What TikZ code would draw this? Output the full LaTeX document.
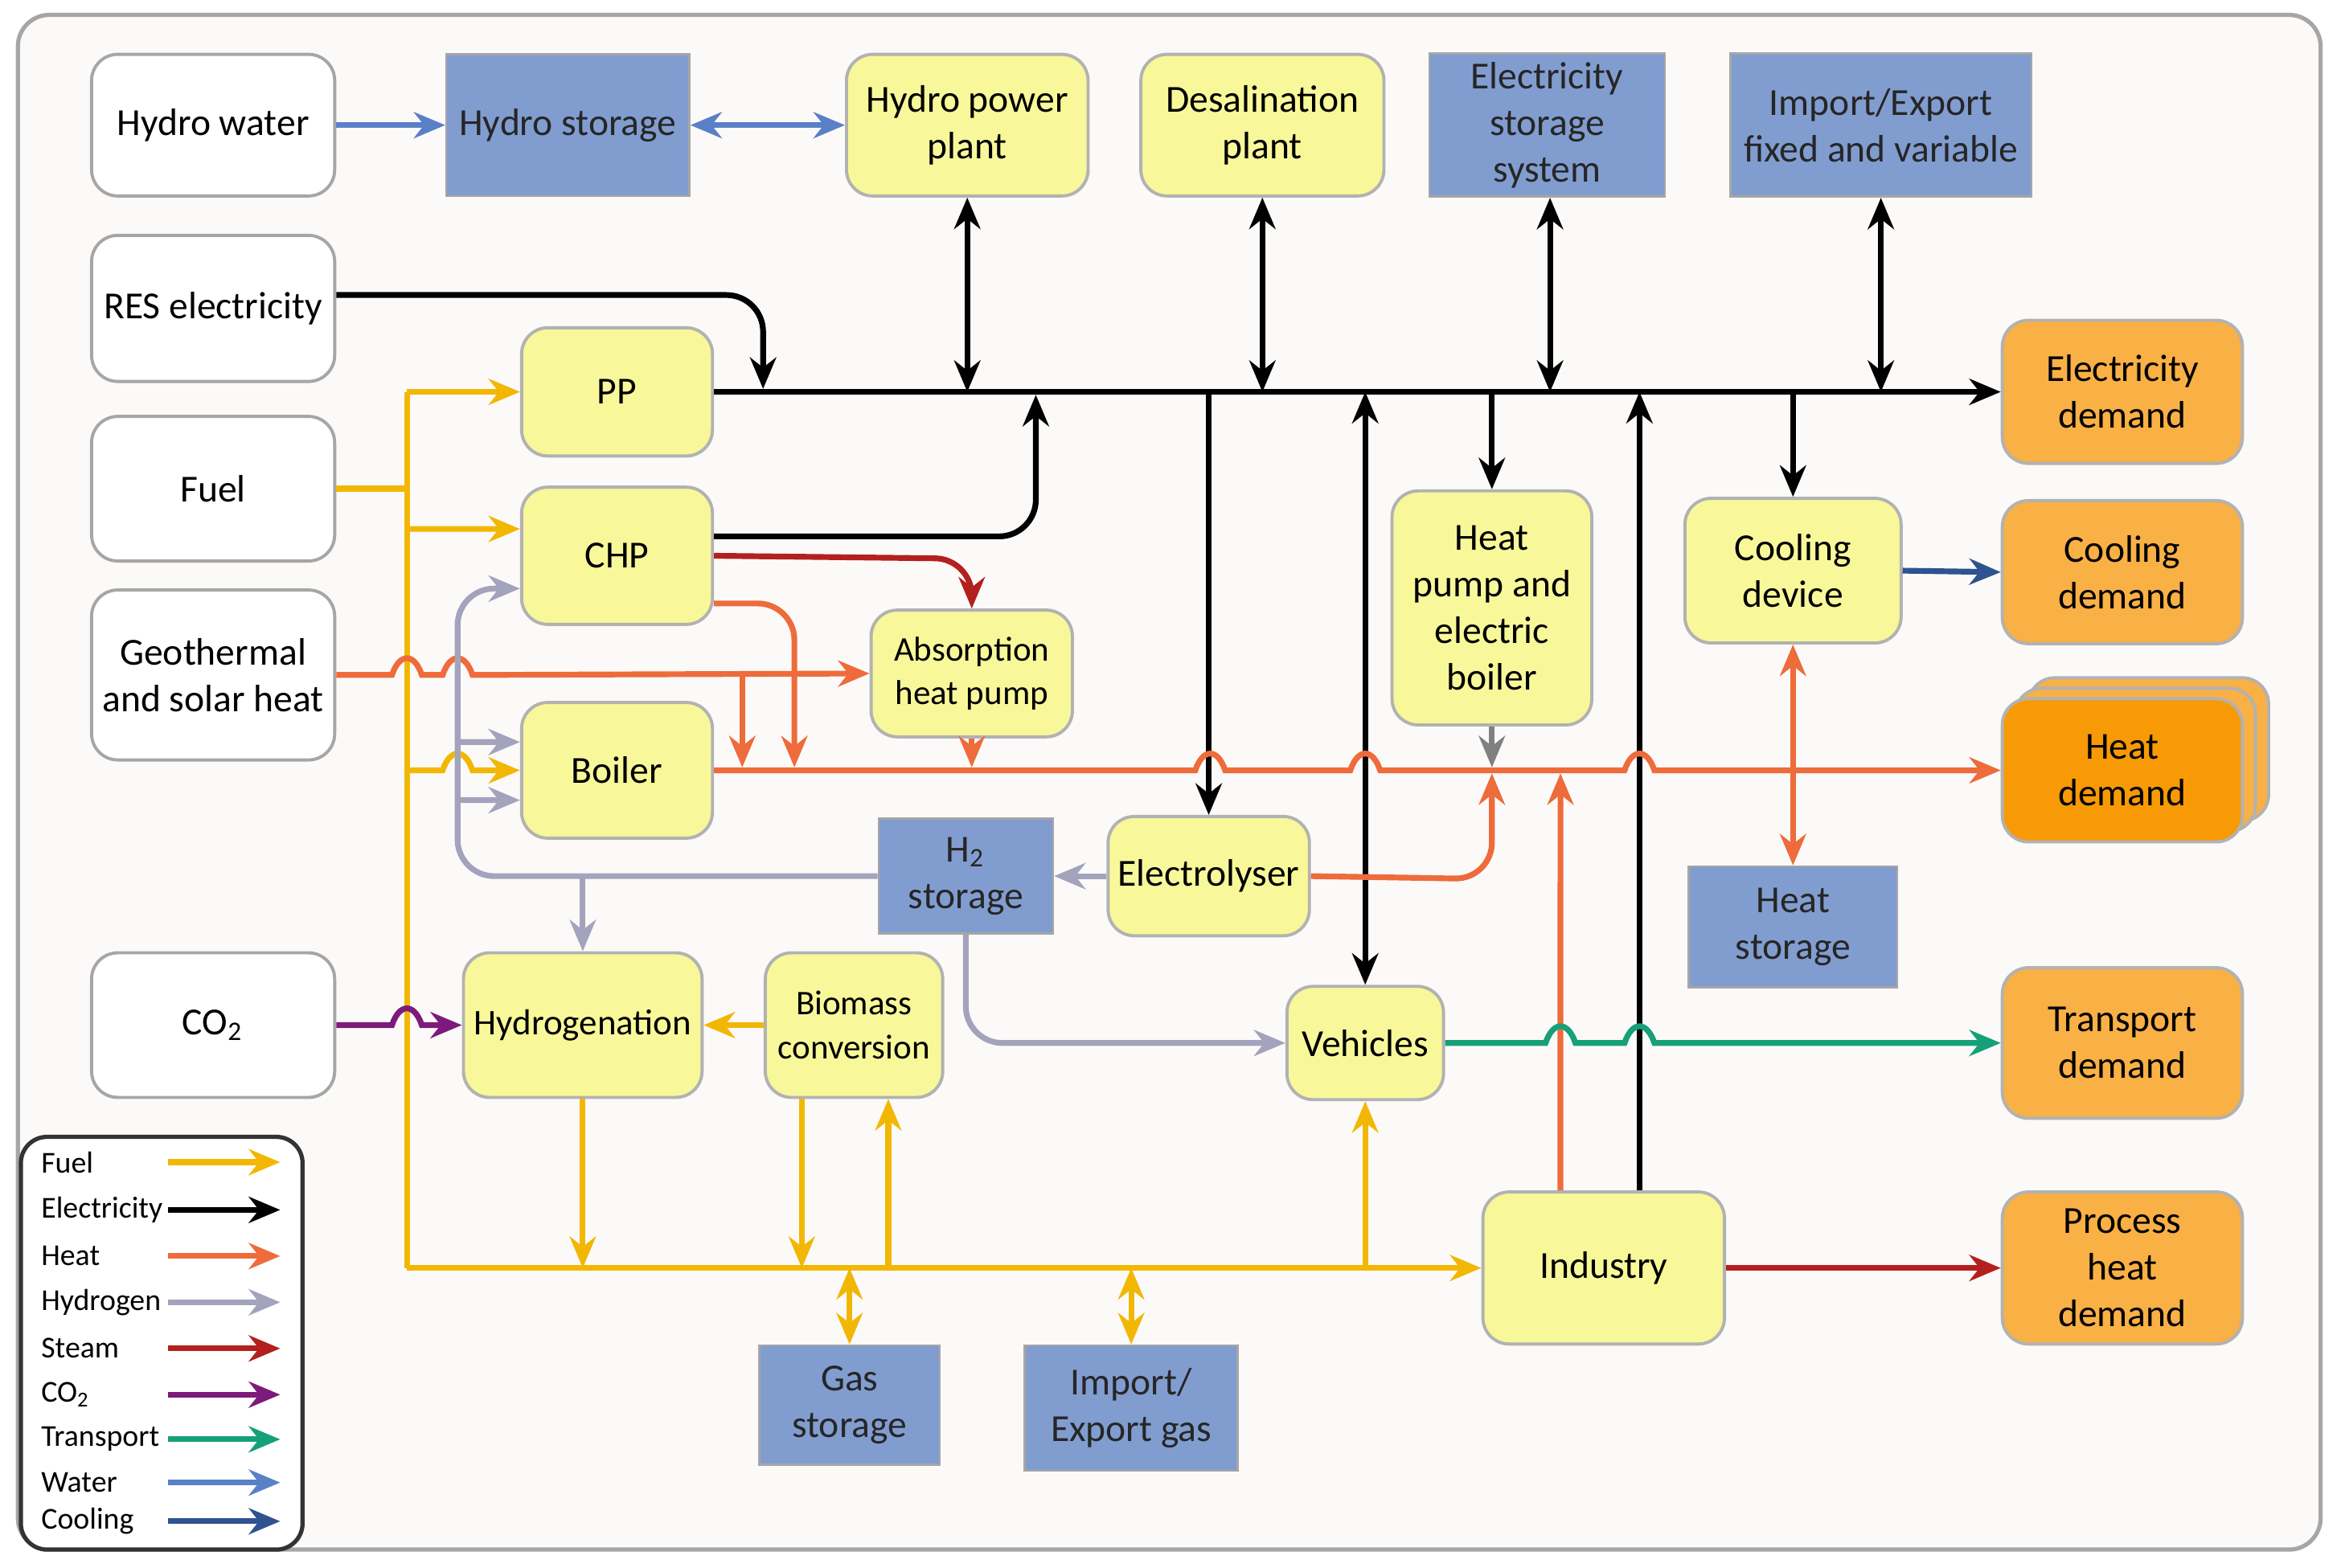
\documentclass[tikz,border=0pt]{standalone}
\usepackage{fontspec}
\setmainfont{Carlito}
\usetikzlibrary{arrows.meta,shadows}
\definecolor{fuelc}{HTML}{F2B705}
\definecolor{heatc}{HTML}{EE6B3B}
\definecolor{hydc}{HTML}{A3A3BD}
\definecolor{steamc}{HTML}{B3201E}
\definecolor{co2c}{HTML}{7D1A7B}
\definecolor{transc}{HTML}{16A07A}
\definecolor{waterc}{HTML}{5A80C8}
\definecolor{coolc}{HTML}{2F5290}
\definecolor{yfill}{HTML}{F8F89A}
\definecolor{ofill}{HTML}{F9B045}
\definecolor{hdfill}{HTML}{F79A05}
\definecolor{bfill}{HTML}{819DD0}
\definecolor{bgc}{HTML}{FCFAF8}
\tikzset{
 base/.style={font=\fontsize{7.3}{8.9}\selectfont,align=center,inner sep=1pt},
 wbox/.style={base,draw=gray!70,fill=white,rounded corners=5pt,line width=0.6pt},
 ybox/.style={base,draw=gray!60,fill=yfill,rounded corners=5pt,line width=0.6pt},
 bbox/.style={base,draw=gray!70,fill=bfill,text=black!85},
 obox/.style={base,draw=gray!60,fill=ofill,rounded corners=5pt,line width=0.6pt},
 ln/.style={line width=1.1pt,rounded corners=7pt},
 sl/.style={rounded corners=0pt},
 tip/.style={-{Stealth[length=6pt,width=5pt]}},
 tt/.style={{Stealth[length=6pt,width=5pt]}-{Stealth[length=6pt,width=5pt]}},
 el/.style={ln,black}, fu/.style={ln,fuelc}, ht/.style={ln,heatc},
 hy/.style={ln,hydc}, st/.style={ln,steamc}, co/.style={ln,co2c},
 tr/.style={ln,transc}, wa/.style={ln,waterc}, cl/.style={ln,coolc},
 hop/.style={insert path={.. controls +(5,-15) and +(-5,-15) .. ++(20,0)}},
 lg/.style={font=\fontsize{5.8}{7}\selectfont,anchor=west,inner sep=0pt}
}
\begin{document}
\begin{tikzpicture}[x=0.01cm,y=-0.01cm]
\useasboundingbox (0,0) rectangle (1568,1052);
\draw[gray!70,fill=bgc,rounded corners=6pt,line width=0.8pt] (12,10) rectangle (1557,1040);
% nodes
\node[wbox,minimum width=1.63cm,minimum height=0.95cm] (hw) at (143,84) {Hydro water};
\node[bbox,minimum width=1.63cm,minimum height=0.95cm] (hs) at (381,84) {Hydro storage};
\node[ybox,minimum width=1.62cm,minimum height=0.95cm] (hpp) at (649,84) {Hydro power\\plant};
\node[ybox,minimum width=1.63cm,minimum height=0.95cm] (dp) at (847,84) {Desalination\\plant};
\node[bbox,minimum width=1.58cm,minimum height=0.96cm] (ess) at (1038,84) {Electricity\\storage\\system};
\node[bbox,minimum width=2.02cm,minimum height=0.96cm] (iex) at (1262,84) {Import/Export\\fixed and variable};
\node[wbox,minimum width=1.63cm,minimum height=0.98cm] (res) at (143,207) {RES electricity};
\node[wbox,minimum width=1.63cm,minimum height=0.97cm] (fuel) at (143,328) {Fuel};
\node[wbox,minimum width=1.63cm,minimum height=1.14cm] (geo) at (143,453) {Geothermal\\and solar heat};
\node[wbox,minimum width=1.63cm,minimum height=0.97cm] (co2) at (143,688) {CO\textsubscript{2}};
\node[ybox,minimum width=1.28cm,minimum height=0.86cm] (PP) at (414,263) {PP};
\node[ybox,minimum width=1.28cm,minimum height=0.92cm] (CHP) at (414,373) {CHP};
\node[ybox,minimum width=1.28cm,minimum height=0.91cm] (Boiler) at (414,517) {Boiler};
\node[ybox,minimum width=1.35cm,minimum height=0.85cm,font=\fontsize{6.6}{8.4}\selectfont] (ahp) at (652,452) {Absorption\\heat pump};
\node[ybox,minimum width=1.34cm,minimum height=1.57cm] (hp) at (1001,408) {Heat\\pump and\\electric\\boiler};
\node[ybox,minimum width=1.45cm,minimum height=0.97cm] (cd) at (1203,383) {Cooling\\device};
\node[obox,minimum width=1.61cm,minimum height=0.96cm] (ed) at (1424,263) {Electricity\\demand};
\node[obox,minimum width=1.61cm,minimum height=0.96cm] (cdm) at (1424,384) {Cooling\\demand};
\node[obox,fill=hdfill,double copy shadow={shadow xshift=2.5pt,shadow yshift=2pt,fill=ofill,draw=gray!60},minimum width=1.61cm,minimum height=0.96cm] (hd) at (1424,517) {Heat\\demand};
\node[obox,minimum width=1.61cm,minimum height=1.01cm] (td) at (1424,700) {Transport\\demand};
\node[obox,minimum width=1.61cm,minimum height=1.02cm] (phd) at (1424,851) {Process\\heat\\demand};
\node[ybox,minimum width=1.35cm,minimum height=0.80cm] (ely) at (811,588) {Electrolyser};
\node[bbox,minimum width=1.17cm,minimum height=0.77cm] (h2) at (648,588) {H\textsubscript{2}\\storage};
\node[bbox,minimum width=1.40cm,minimum height=0.81cm] (hst) at (1203,622) {Heat\\storage};
\node[ybox,minimum width=1.60cm,minimum height=0.97cm,font=\fontsize{6.9}{8.4}\selectfont] (hyd) at (391,688) {Hydrogenation};
\node[ybox,minimum width=1.19cm,minimum height=0.97cm,font=\fontsize{6.6}{8.4}\selectfont] (bio) at (573,688) {Biomass\\conversion};
\node[ybox,minimum width=1.05cm,minimum height=0.76cm] (veh) at (916,700) {Vehicles};
\node[ybox,minimum width=1.62cm,minimum height=1.02cm] (ind) at (1076,851) {Industry};
\node[bbox,minimum width=1.21cm,minimum height=0.80cm] (gs) at (570,943) {Gas\\storage};
\node[bbox,minimum width=1.43cm,minimum height=0.84cm] (ieg) at (759,945) {Import/\\Export gas};
% water / cooling
\draw[wa,tip] (hw.east) -- (hs.west);
\draw[wa,tt] (hs.east) -- (hpp.west);
\draw[cl,tip] (cd.east) -- (cdm.west);
% electricity
\draw[el,tip] (PP.east) -- (ed.west);
\draw[el,tip] ([yshift=0.09cm]res.east) -- (512,198) -- (512,261);
\draw[el,tt] (hpp.south) -- (hpp.south |- PP.east);
\draw[el,tt] (dp.south) -- (dp.south |- PP.east);
\draw[el,tt] ([xshift=0.02cm]ess.south) -- ([xshift=0.02cm]ess.south |- PP.east);
\draw[el,tt] (iex.south) -- (iex.south |- PP.east);
\draw[el,tip] ([yshift=0.13cm]CHP.east) -- (695,360) -- (695,265);
\draw[el,tip] (ely.north |- PP.east) -- (ely.north);
\draw[el,tt] (veh.north |- PP.east) -- (veh.north);
\draw[el,tip] (hp.north |- PP.east) -- (hp.north);
\draw[el,tip] ([xshift=0.24cm]ind.north) -- ([xshift=0.24cm]ind.north |- PP.east);
\draw[el,tip] (cd.north |- PP.east) -- (cd.north);
% fuel
\draw[fu] (fuel.east) -- (273,328);
\draw[fu,sl] (273,263) -- (273,851);
\draw[fu,tip] (273,263) -- (PP.west);
\draw[fu,tip] (273,355) -- ([yshift=0.18cm]CHP.west);
\draw[fu,sl,tip] (273,517) -- (297,517) [hop] -- (Boiler.west);
\draw[fu,tip] (273,851) -- (ind.west);
\draw[fu,tip] (hyd.south) -- (hyd.south |- ind.west);
\draw[fu,tip] ([xshift=-0.35cm]bio.south) -- ([xshift=-0.35cm]bio.south |- ind.west);
\draw[fu,tip] ([xshift=0.23cm]bio.south |- ind.west) -- ([xshift=0.23cm]bio.south);
\draw[fu,tt] (gs.north) -- (gs.north |- ind.west);
\draw[fu,tt] (ieg.north) -- (ieg.north |- ind.west);
\draw[fu,tip] (veh.south |- ind.west) -- (veh.south);
\draw[fu,tip] (bio.west) -- (hyd.east);
% heat
\draw[ht,sl,tip] (geo.east) -- (263,453) [hop] -- (297,453) [hop] -- (ahp.west);
\draw[ht,tip] (498,453) -- (498,515);
\draw[ht,tip] ([yshift=-0.32cm]CHP.east) -- (533,405) -- (533,515);
\draw[ht,tip] (ahp.south) -- (652,515);
\draw[ht,sl,tip] (Boiler.east) -- (802,517) [hop] -- (906,517) [hop] -- (1090,517) [hop] -- (hd.west);
\draw[ln,gray,tip] (hp.south) -- (1001,515);
\draw[ht,tip] (ely.east) -- (1001,590) -- (1001,519);
\draw[ht,tip] ([xshift=-0.29cm]ind.north) -- (1047,519);
\draw[ht,tt] (cd.south) -- (hst.north);
% steam
\draw[st,tip] (CHP.east) -- (652,375) -- (ahp.north);
\draw[st,tip] (ind.east) -- (phd.west);
% hydrogen
\draw[hy,tip] (ely.west) -- (h2.east);
\draw[hy,tip] (h2.west) -- (307,588) -- (307,395) -- ([yshift=-0.22cm]CHP.west);
\draw[hy,tip] (307,498) -- ([yshift=0.19cm]Boiler.west);
\draw[hy,tip] (307,537) -- ([yshift=-0.2cm]Boiler.west);
\draw[hy,tip] (391,588) -- (hyd.north);
\draw[hy,tip] (h2.south) -- (648,700) -- (veh.west);
% co2 / transport
\draw[co,sl,tip] (co2.east) -- (263,688) [hop] -- (hyd.west);
\draw[tr,sl,tip] (veh.east) -- (1037,700) [hop] -- (1090,700) [hop] -- (td.west);
% legend
\draw[black!80,fill=white,rounded corners=5pt,line width=0.8pt] (14,763) rectangle (203,1040);
\foreach \y/\t/\s in {780/Fuel/fu,812/Electricity/el,843/Heat/ht,874/Hydrogen/hy,905/Steam/st,936/CO\textsubscript{2}/co,966/Transport/tr,995/Water/wa,1021/Cooling/cl}{
 \node[lg] at (27,\y) {\t};
 \draw[\s,tip] (113,\y) -- (188,\y);
}
\end{tikzpicture}
\end{document}
